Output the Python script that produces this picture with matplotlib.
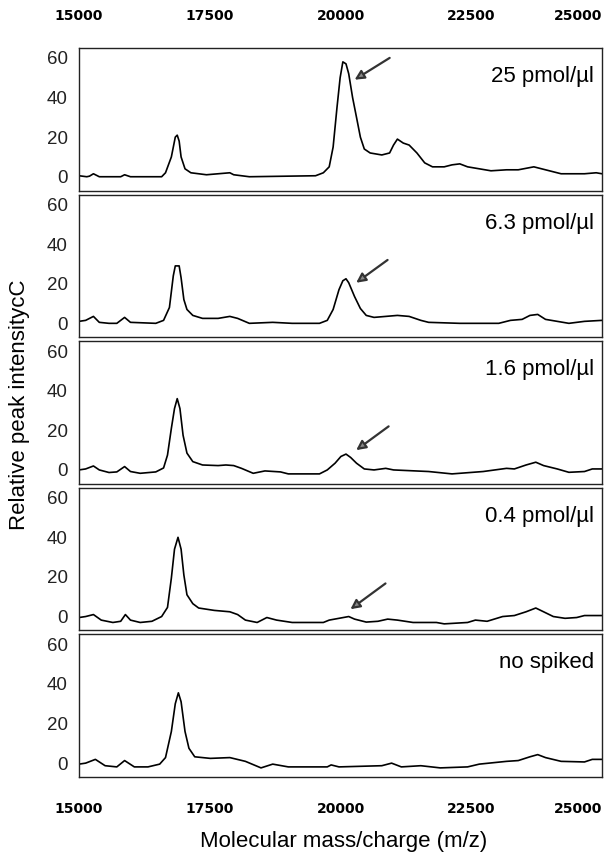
import matplotlib
matplotlib.use("Agg")
import matplotlib.pyplot as plt

plt.rcParams['font.family'] = ['Liberation Sans', 'DejaVu Sans']

# ---------------------------------------------------------------------------
# data (m/z, relative intensity)
# ---------------------------------------------------------------------------
labels = ["25 pmol/\u00b5l", "6.3 pmol/\u00b5l", "1.6 pmol/\u00b5l", "0.4 pmol/\u00b5l", "no spiked"]

mz_25 = [15000, 15149, 15201, 15276, 15388, 15797, 15872, 15984, 16580, 16654, 16766, 16841, 16878,
         16915, 16952, 17027, 17139, 17437, 17884, 17958, 18257, 19523, 19672, 19784, 19859, 19933,
         19993, 20045, 20105, 20157, 20231, 20306, 20380, 20455, 20567, 20790, 20939, 21014, 21088,
         21200, 21312, 21461, 21610, 21759, 21983, 22132, 22281, 22430, 22654, 22877, 23175, 23399,
         23697, 23846, 24069, 24218, 24665, 24889, 25000]
int_25 = [0.5, 0, 0.3, 1.5, 0, 0, 1, 0, 0, 2, 10, 20, 21,
          18, 10, 4, 2, 1, 2, 1, 0, 0.5, 2, 5, 15, 35,
          50, 58, 57, 52, 40, 30, 20, 14, 12, 11, 12, 16, 19,
          17, 16, 12, 7, 5, 5, 6, 6.5, 5, 4, 3, 3.5, 3.5,
          5, 4, 2.5, 1.5, 1.5, 2, 1.5]

mz_63 = [15000, 15127, 15276, 15388, 15574, 15723, 15872, 15984, 16468, 16617, 16729, 16803, 16841,
         16915, 16952, 17005, 17064, 17176, 17362, 17660, 17884, 18033, 18257, 18704, 19076, 19598,
         19747, 19859, 19971, 20045, 20105, 20157, 20269, 20380, 20492, 20641, 20865, 21088, 21312,
         21536, 21685, 22281, 23026, 23250, 23473, 23622, 23771, 23920, 24144, 24367, 24665, 25000]
int_63 = [1, 1.5, 3.5, 0.5, 0, 0, 3, 0.5, 0, 1.5, 8, 24, 29,
          29, 23, 12, 7, 4, 2.5, 2.5, 3.5, 2.5, 0, 0.5, 0, 0,
          1.5, 7, 17, 21.5, 22.5, 20.5, 13.5, 7.5, 4, 3, 3.5, 4, 3.5,
          1.5, 0.5, 0, 0, 1.5, 2, 4, 4.5, 2, 1, 0, 1, 1.5]

mz_16 = [15000, 15127, 15276, 15388, 15574, 15723, 15872, 15984, 16170, 16468, 16617, 16692, 16766,
         16826, 16878, 16930, 16990, 17064, 17176, 17362, 17660, 17809, 17958, 18107, 18331, 18555,
         18853, 19002, 19598, 19747, 19896, 20008, 20105, 20194, 20306, 20455, 20641, 20865, 21014,
         21685, 22132, 22728, 23175, 23324, 23548, 23734, 23883, 24144, 24367, 24665, 24814, 25000]
int_16 = [0, 0.5, 2, 0, -1.3, -1, 1.7, -0.8, -1.7, -1, 1, 7.5, 21,
          31, 36, 31, 17.5, 8.5, 4.2, 2.5, 2.2, 2.5, 2.2, 0.8, -1.7, -0.5,
          -1, -2, -2, 0, 3.4, 6.8, 8, 6.3, 3.4, 0.5, 0, 0.8, 0,
          -0.8, -2, -0.8, 0.8, 0.5, 2.5, 3.9, 2.2, 0.5, -1.2, -0.8, 0.5, 0.5]

mz_04 = [15000, 15127, 15276, 15425, 15648, 15797, 15887, 15984, 16170, 16394, 16580, 16692, 16766,
         16826, 16893, 16952, 17005, 17064, 17176, 17288, 17586, 17884, 18033, 18182, 18406, 18592,
         18778, 19076, 19672, 19784, 19971, 20157, 20269, 20492, 20716, 20902, 21088, 21387, 21834,
         21983, 22430, 22579, 22803, 23100, 23324, 23548, 23734, 23883, 24069, 24293, 24516, 24665,
         25000]
int_04 = [-0.5, 0, 1, -1.8, -3, -2.4, 1, -1.8, -3, -2.4, 0, 4.6, 19.4,
          34, 40, 34, 21, 11, 6.5, 4.3, 3.1, 2.4, 1, -1.8, -3, -0.5,
          -1.8, -3, -3, -1.8, -0.9, 0, -1.3, -2.8, -2.4, -1.3, -1.8, -3, -3,
          -3.7, -3, -1.8, -2.4, 0, 0.5, 2.4, 4.3, 2.4, 0, -0.9, -0.5, 0.5,
          0.5]

mz_ns = [15000, 15127, 15313, 15499, 15723, 15872, 16058, 16319, 16543, 16654, 16766, 16841, 16900,
         16952, 17027, 17102, 17213, 17511, 17884, 18182, 18480, 18704, 19002, 19747, 19821, 19971,
         20790, 20977, 21163, 21536, 21908, 22430, 22654, 23175, 23399, 23622, 23771, 23920, 24218,
         24665, 24814, 25000]
int_ns = [-0.5, 0, 1.9, -1.3, -1.9, 1.3, -1.9, -1.9, -0.5, 2.8, 16, 30, 35.5,
          31, 16, 7.5, 3.2, 2.4, 2.8, 0.9, -2.4, -0.5, -1.9, -1.9, -0.9, -1.9,
          -1.3, 0, -1.9, -1.3, -2.4, -1.9, -0.5, 0.9, 1.3, 3.2, 4.3, 2.8, 0.9,
          0.6, 1.9, 1.9]

spectra = [(mz_25, int_25), (mz_63, int_63), (mz_16, int_16), (mz_04, int_04), (mz_ns, int_ns)]

# arrows: (tip m/z, tip intensity, tail m/z, tail intensity); None = no arrow
arrows = [(20270, 49, 20940, 60),
          (20300, 20.5, 20900, 32),
          (20300, 10, 20920, 22),
          (20190, 3.7, 20860, 16.7),
          None]

x_ticks = [15000, 17500, 20000, 22500, 25000]
y_ticks = [0, 20, 40, 60]

# ---------------------------------------------------------------------------
# figure
# ---------------------------------------------------------------------------
fig = plt.figure(figsize=(6.11, 8.52), dpi=100)

left, right = 79 / 611, 602 / 611
top, bottom = 48 / 852, 777 / 852
gap = 4 / 852
h = (bottom - top - 4 * gap) / 5

for i, ((mz, inten), lab, arr) in enumerate(zip(spectra, labels, arrows)):
    y0 = 1 - (top + i * (h + gap) + h)
    ax = fig.add_axes([left, y0, right - left, h])
    ax.plot(mz, inten, color="black", lw=1.2)
    ax.set_xlim(15000, 25000)
    ax.set_ylim(-7, 65)
    ax.set_yticks(y_ticks)
    ax.tick_params(axis="y", length=0, pad=8, labelsize=13.5, labelcolor="#222222")
    ax.set_xticks(x_ticks)
    ax.tick_params(axis="x", length=0, labelsize=10, pad=18,
                   labeltop=(i == 0), labelbottom=(i == 4))
    ticks = ax.xaxis.get_major_ticks()
    for tk in ticks:
        for t in (tk.label1, tk.label2):
            t.set_fontweight("bold")
            t.set_family("DejaVu Sans")
    # keep the right-most label inside the figure, as in the scan
    ticks[-1].label1.set_horizontalalignment("right")
    ticks[-1].label2.set_horizontalalignment("right")
    for s in ax.spines.values():
        s.set_linewidth(1.0)
        s.set_color("#222222")
    ax.text(0.985, 0.8, lab, transform=ax.transAxes, ha="right", va="center",
            fontsize=16)
    if arr is not None:
        ax.annotate("", xy=(arr[0], arr[1]), xytext=(arr[2], arr[3]),
                    arrowprops=dict(arrowstyle="-|>", lw=1.6, edgecolor="#333333",
                                    facecolor="#888888", mutation_scale=14,
                                    shrinkA=0, shrinkB=0))

fig.text(20 / 611, 1 - 405 / 852, "Relative peak intensitycC", rotation=90,
         ha="center", va="center", fontsize=16)
fig.text(344 / 611, 1 - 842 / 852, "Molecular mass/charge (m/z)",
         ha="center", va="center", fontsize=16)

fig.savefig("out.png", dpi=100)
